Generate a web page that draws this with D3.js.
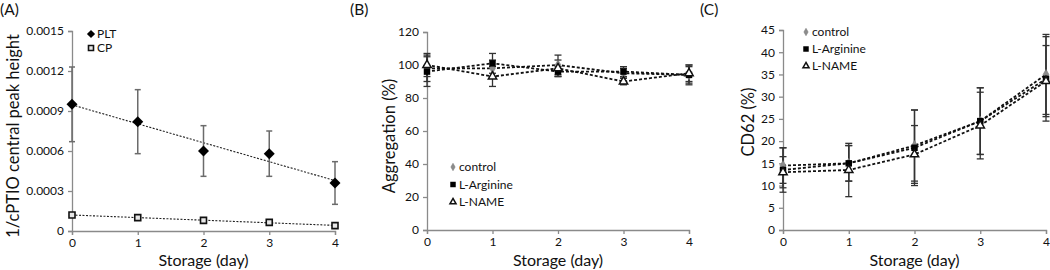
<!DOCTYPE html>
<html>
<head>
<meta charset="utf-8">
<script src="https://cdn.jsdelivr.net/npm/d3@7"></script>
<style>
	body { margin: 0; background: #fff; }
	svg text { font-family: Lato, "Open Sans", sans-serif; fill: #111; }
</style>
</head>
<body>
<div id="chart"></div>
<script>

//////////////////////////////// Data ////////////////////////////////
var days = [0, 1, 2, 3, 4];

//(A) ESR signal
var pltMean = [0.00095, 0.00082, 0.00060, 0.00058, 0.00036],
	pltErr  = [0.00028, 0.00024, 0.00019, 0.00017, 0.00016],
	cpMean  = [0.00012, 0.00010, 0.00008, 0.000065, 0.00004],
	cpErr   = [0.000006, 0.000005, 0.000005, 0.000005, 0.000004];
var ticksA = [0, 0.0003, 0.0006, 0.0009, 0.0012, 0.0015];

//(B) aggregation
var aggControl = [98, 98, 100, 95, 94],
	aggControlErr = [8, 5, 6, 3, 5],
	aggArg = [96, 101, 96, 96, 94],
	aggArgErr = [9, 6, 3, 3, 6],
	aggName = [100, 93, 98, 90, 95],
	aggNameErr = [7, 6, 5, 2, 5];
var ticksB = [0, 20, 40, 60, 80, 100, 120];

//(C) CD62
var cdControl = [14.5, 15, 19, 24.5, 35],
	cdControlErr = [4, 4, 8, 7.5, 9],
	cdArg = [13.5, 15, 18.5, 24.5, 34],
	cdArgErr = [5, 4, 8.5, 7.5, 9.5],
	cdName = [13, 13.5, 17, 23.5, 33.5],
	cdNameErr = [3.5, 6, 6.5, 7.5, 8];
var ticksC = [0, 5, 10, 15, 20, 25, 30, 35, 40, 45];

var groupNames = ["control", "L-Arginine", "L-NAME"];

//////////////////////////////// Setup ////////////////////////////////
var svg = d3.select("#chart").append("svg")
	.attr("width", 1050)
	.attr("height", 270);

var axisColor = "#8a8a8a";

//Draws the frame of one panel and returns its scales
function drawPanel(p) {
	var g = svg.append("g");
	var x = d3.scaleLinear().domain([0, 4]).range([p.left, p.right]);
	var y = d3.scaleLinear().domain([p.ticks[0], p.ticks[p.ticks.length-1]]).range([p.bottom, p.top]);

	var yAxis = g.append("g")
		.attr("transform", "translate(" + p.left + ",0)")
		.call(d3.axisLeft(y).tickValues(p.ticks).tickSize(4).tickPadding(4).tickFormat(p.fmt));
	var xAxis = g.append("g")
		.attr("transform", "translate(0," + p.bottom + ")")
		.call(d3.axisBottom(x).tickValues(days).tickSize(4).tickPadding(3).tickFormat(d3.format("d")));

	[yAxis, xAxis].forEach(function(a) {
		a.select(".domain").attr("stroke", axisColor).attr("stroke-width", 1.3);
		a.selectAll(".tick line").attr("stroke", axisColor).attr("stroke-width", 1.3);
		a.selectAll(".tick text").style("font-size", "12px").attr("fill", "#222");
	});

	//Axis titles
	g.append("text")
		.attr("transform", "translate(" + p.titleX + "," + p.titleY + ") rotate(-90)")
		.attr("text-anchor", "middle")
		.attr("dy", "0.35em")
		.style("font-size", "16.5px")
		.text(p.yTitle);
	g.append("text")
		.attr("x", (p.left + p.right)/2)
		.attr("y", 266)
		.attr("text-anchor", "middle")
		.style("font-size", "16px")
		.text("Storage (day)");

	//Panel letter
	g.append("text")
		.attr("x", p.letterX)
		.attr("y", 15)
		.style("font-size", "15.5px")
		.text(p.letter);

	return {g: g, x: x, y: y};
}

//Marker shapes
function marker(sel, type, size) {
	if(type === "diamond") {
		sel.append("path").attr("d", d3.symbol().type(d3.symbolSquare).size(size))
			.attr("transform", "rotate(45)").attr("fill", "#000");
	} else if(type === "smallDiamond") {
		sel.append("path").attr("d", d3.symbol().type(d3.symbolDiamond).size(size)).attr("fill", "#8c8c8c").attr("stroke", "#777").attr("stroke-width", 0.5);
	} else if(type === "square") {
		sel.append("path").attr("d", d3.symbol().type(d3.symbolSquare).size(size)).attr("fill", "#000");
	} else if(type === "openSquare") {
		sel.append("path").attr("d", d3.symbol().type(d3.symbolSquare).size(size)).attr("fill", "#e8e8e8").attr("stroke", "#111").attr("stroke-width", 1.6);
	} else if(type === "triangle") {
		sel.append("path").attr("d", d3.symbol().type(d3.symbolTriangle).size(size)).attr("fill", "#fff").attr("stroke", "#111").attr("stroke-width", 1.5);
	}
}

//Error bars with caps
function errorBars(P, mean, err, color, width, cap) {
	var eg = P.g.append("g");
	days.forEach(function(d, i) {
		var xx = P.x(d), y1 = P.y(mean[i] + err[i]), y0 = P.y(mean[i] - err[i]);
		eg.append("line").attr("x1", xx).attr("x2", xx).attr("y1", y1).attr("y2", y0)
			.attr("stroke", color).attr("stroke-width", width);
		[y1, y0].forEach(function(yy) {
			eg.append("line").attr("x1", xx - cap).attr("x2", xx + cap).attr("y1", yy).attr("y2", yy)
				.attr("stroke", color).attr("stroke-width", width);
		});
	});
}

function points(P, mean, type, size) {
	days.forEach(function(d, i) {
		var m = P.g.append("g").attr("transform", "translate(" + P.x(d) + "," + P.y(mean[i]) + ")");
		marker(m, type, size);
	});
}

function dashedLine(P, mean) {
	P.g.append("path")
		.datum(days)
		.attr("d", d3.line().x(function(d) { return P.x(d); }).y(function(d, i) { return P.y(mean[i]); }))
		.attr("fill", "none")
		.attr("stroke", "#111")
		.attr("stroke-width", 1.8)
		.attr("stroke-dasharray", "3,2");
}

//Least squares trend line (panel A)
function trendLine(P, mean) {
	var mx = d3.mean(days), my = d3.mean(mean);
	var slope = d3.sum(days, function(d, i) { return (d - mx)*(mean[i] - my); }) / d3.sum(days, function(d) { return (d - mx)*(d - mx); });
	var b = my - slope*mx;
	P.g.append("line")
		.attr("x1", P.x(0)).attr("y1", P.y(b))
		.attr("x2", P.x(4)).attr("y2", P.y(b + slope*4))
		.attr("stroke", "#222")
		.attr("stroke-width", 1.1)
		.attr("stroke-dasharray", "2,1.5");
}

function legend(P, items, lx, ly, dy) {
	items.forEach(function(it, i) {
		var m = P.g.append("g").attr("transform", "translate(" + lx + "," + (ly + i*dy) + ")");
		marker(m, it.type, it.size);
		P.g.append("text")
			.attr("x", lx + 6)
			.attr("y", ly + i*dy)
			.attr("dy", "0.35em")
			.style("font-size", "12px")
			.text(it.name);
	});
}

//////////////////////////////// Panel A ////////////////////////////////
var A = drawPanel({left: 72, right: 335, top: 31, bottom: 231, ticks: ticksA,
	fmt: function(d) { return d === 0 ? "0" : d3.format(".4f")(d); },
	yTitle: "1/cPTIO central peak height", titleX: 13, titleY: 136, letter: "(A)", letterX: 0});

trendLine(A, pltMean);
trendLine(A, cpMean);
errorBars(A, pltMean, pltErr, "#6b6b6b", 1.5, 3);
errorBars(A, cpMean, cpErr, "#6b6b6b", 1.5, 3);
points(A, pltMean, "diamond", 60);
points(A, cpMean, "openSquare", 36);
legend(A, [{name: "PLT", type: "diamond", size: 34}, {name: "CP", type: "openSquare", size: 25}], 91, 34, 14);

//////////////////////////////// Panel B ////////////////////////////////
var B = drawPanel({left: 427, right: 689, top: 32, bottom: 230, ticks: ticksB,
	fmt: d3.format("d"), yTitle: "Aggregation (%)", titleX: 389, titleY: 136, letter: "(B)", letterX: 350});

dashedLine(B, aggControl);
dashedLine(B, aggArg);
dashedLine(B, aggName);
errorBars(B, aggControl, aggControlErr, "#333", 1.3, 3.5);
errorBars(B, aggArg, aggArgErr, "#333", 1.3, 3.5);
errorBars(B, aggName, aggNameErr, "#333", 1.3, 3.5);
points(B, aggControl, "smallDiamond", 30);
points(B, aggArg, "square", 42);
points(B, aggName, "triangle", 30);
legend(B, [{name: groupNames[0], type: "smallDiamond", size: 16},
	{name: groupNames[1], type: "square", size: 30},
	{name: groupNames[2], type: "triangle", size: 16}], 453, 167, 17.5);

//////////////////////////////// Panel C ////////////////////////////////
var C = drawPanel({left: 783, right: 1046, top: 30, bottom: 230, ticks: ticksC,
	fmt: d3.format("d"), yTitle: "CD62 (%)", titleX: 748, titleY: 122, letter: "(C)", letterX: 700});

dashedLine(C, cdControl);
dashedLine(C, cdArg);
dashedLine(C, cdName);
errorBars(C, cdControl, cdControlErr, "#333", 1.3, 3.5);
errorBars(C, cdArg, cdArgErr, "#333", 1.3, 3.5);
errorBars(C, cdName, cdNameErr, "#333", 1.3, 3.5);
points(C, cdControl, "smallDiamond", 30);
points(C, cdArg, "square", 42);
points(C, cdName, "triangle", 30);
legend(C, [{name: groupNames[0], type: "smallDiamond", size: 16},
	{name: groupNames[1], type: "square", size: 30},
	{name: groupNames[2], type: "triangle", size: 16}], 806, 32, 17);

</script>
</body>
</html>
